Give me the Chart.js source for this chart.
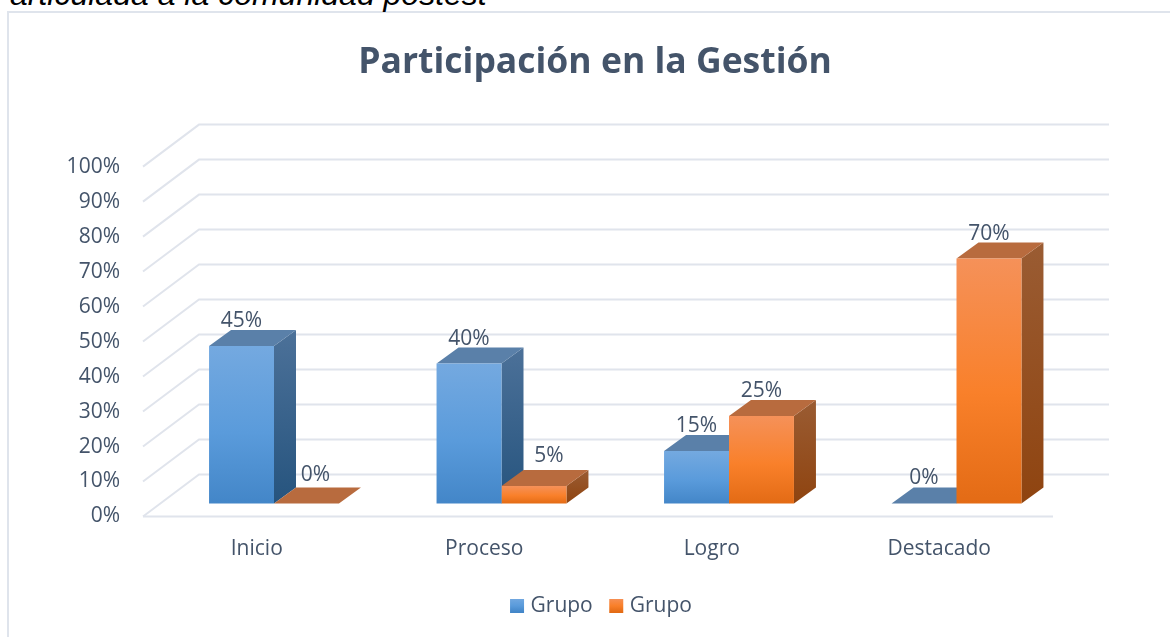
<!DOCTYPE html>
<html lang="es">
<head>
<meta charset="utf-8">
<title>Participación en la Gestión</title>
<script src="https://cdn.jsdelivr.net/npm/chart.js@4"></script>
<style>
html,body{margin:0;padding:0;background:#fff;overflow:hidden;width:1170px;height:637px}
#frame{position:absolute;left:7px;top:11px;width:1300px;height:800px;border:2px solid #DFE4EC;box-sizing:border-box}
#caption{position:absolute;left:10px;top:-24px;font:italic 32px "Liberation Sans",Arial,sans-serif;color:#000;white-space:nowrap}
#wrap{position:absolute;left:0;top:0;width:1170px;height:637px}
</style>
</head>
<body>
<div id="frame"></div>
<div id="caption">articulada a la comunidad postest</div>
<div id="wrap"><canvas id="c" width="1170" height="637"></canvas></div>
<script>
const chartTitle = 'Participación en la Gestión';
const categories = ['Inicio', 'Proceso', 'Logro', 'Destacado'];
const seriesNames = ['Grupo', 'Grupo'];
const seriesA = [45, 40, 15, 0];
const seriesB = [0, 5, 25, 70];

const textColor = '#44546A';
const gridColor = '#E0E4EC';
const font = '"Open Sans","Noto Sans",sans-serif';
const wallDX = 56, wallDY = 42;      // wall depth of the 3D box
const barShiftX = 17.25, barShiftY = 13; // bars stand inside the box
const barDX = 22, barDY = 16;        // depth of each bar
const legendShift = 8;

const palette = [
  {front:['#74A9E0','#5A9BDB','#4386C8'], side:['#4C7199','#26547E'], top:'#5A80A9'},
  {front:['#F59159','#F9802A','#E36B15'], side:['#9A5C33','#8F4410'], top:'#B86B3E'}
];
function frontGradient(ctx, y0, y1, p){
  const g = ctx.createLinearGradient(0, y0, 0, y1);
  g.addColorStop(0, p.front[0]); g.addColorStop(.55, p.front[1]); g.addColorStop(1, p.front[2]);
  return g;
}
function barFill(p){
  return c => {
    const el = c.element;
    if(!c.chart.chartArea || c.parsed === undefined || !el) return p.front[1];
    const y = c.chart.scales.y;
    const top = y.getPixelForValue(c.parsed.y), base = y.getPixelForValue(0);
    return frontGradient(c.chart.ctx, top, base === top ? top+1 : base, p);
  };
}
const box3d = {
  id:'box3d',
  afterLayout(chart){
    chart.legend.left += legendShift;
    chart.legend.right += legendShift;
  },
  beforeDatasetsDraw(chart){
    const {ctx, scales:{y}, chartArea:a} = chart;
    ctx.save();
    ctx.strokeStyle = gridColor; ctx.lineWidth = 2;
    y.ticks.forEach(t => {
      const py = y.getPixelForValue(t.value);
      ctx.beginPath();
      ctx.moveTo(a.left, py);
      ctx.lineTo(a.left + wallDX, py - wallDY);
      ctx.lineTo(a.right + wallDX, py - wallDY);
      ctx.stroke();
      if(t.value === 0){
        ctx.beginPath(); ctx.moveTo(a.left, py); ctx.lineTo(a.right, py); ctx.stroke();
      }
    });
    chart.data.datasets.forEach((ds, i) => {
      const p = palette[i];
      chart.getDatasetMeta(i).data.forEach(el => {
        const l = el.x - el.width/2 + barShiftX, r = el.x + el.width/2 + barShiftX;
        const t = el.y - barShiftY, b = el.base - barShiftY;
        if(b - t > 0.5){
          const g = ctx.createLinearGradient(0, t - barDY, 0, b);
          g.addColorStop(0, p.side[0]); g.addColorStop(1, p.side[1]);
          ctx.fillStyle = g;
          ctx.beginPath();
          ctx.moveTo(r, t); ctx.lineTo(r + barDX, t - barDY);
          ctx.lineTo(r + barDX, b - barDY); ctx.lineTo(r, b);
          ctx.closePath(); ctx.fill();
        }
        ctx.fillStyle = p.top;
        ctx.beginPath();
        ctx.moveTo(l, t); ctx.lineTo(r, t);
        ctx.lineTo(r + barDX, t - barDY); ctx.lineTo(l + barDX, t - barDY);
        ctx.closePath(); ctx.fill();
      });
    });
    ctx.restore();
    ctx.save();
    ctx.translate(barShiftX, -barShiftY);
  },
  afterDatasetsDraw(chart){
    const {ctx} = chart;
    ctx.restore();
    ctx.save();
    ctx.fillStyle = textColor;
    ctx.font = '21px ' + font;
    ctx.textAlign = 'center';
    ctx.textBaseline = 'middle';
    chart.data.datasets.forEach((ds, i) => {
      chart.getDatasetMeta(i).data.forEach((el, j) => {
        const v = ds.data[j];
        // short second-series bars keep their label clear of the first bar's side
        const small = i === 1 && v < 10;
        const nudgeX = small ? (v === 0 ? 9 : 15) : 0;
        const nudgeY = small ? (v === 0 ? 3 : 5) : 0;
        ctx.fillText(v + '%', el.x + barShiftX + nudgeX, el.y - barShiftY - 25 - nudgeY);
      });
    });
    ctx.restore();
  }
};

new Chart(document.getElementById('c'), {
  type:'bar',
  data:{
    labels:categories,
    datasets:[
      {label:seriesNames[0], data:seriesA, backgroundColor:barFill(palette[0]), borderWidth:0, clip:false},
      {label:seriesNames[1], data:seriesB, backgroundColor:barFill(palette[1]), borderWidth:0, clip:false}
    ]
  },
  options:{
    responsive:false,
    animation:false,
    events:[],
    categoryPercentage:0.571,
    barPercentage:1,
    layout:{padding:{left:20, right:0, top:0, bottom:10.5}},
    plugins:{
      tooltip:{enabled:false},
      title:{
        display:true, text:chartTitle, color:textColor,
        font:{family:font, size:35.5, weight:'bold', lineHeight:1.2},
        padding:{top:42, bottom:82}
      },
      legend:{
        position:'bottom',
        labels:{
          color:textColor, font:{family:font, size:21},
          boxWidth:6, boxHeight:6, padding:20.5,
          generateLabels(chart){
            return chart.data.datasets.map((ds, i) => {
              const g = frontGradient(chart.ctx, 598, 612, palette[i]);
              return {text:ds.label, datasetIndex:i, lineWidth:8, strokeStyle:g, fillStyle:g, fontColor:textColor};
            });
          }
        }
      }
    },
    scales:{
      x:{
        grid:{display:false}, border:{display:false},
        ticks:{color:textColor, font:{family:font, size:21}, padding:12, maxRotation:0},
        afterFit(s){ s.height = 58.5; }
      },
      y:{
        min:0, max:100,
        grid:{display:false}, border:{display:false},
        ticks:{color:textColor, font:{family:font, size:21}, stepSize:10, padding:15, callback:v => v + '%'},
        afterFit(s){ s.width = 123; }
      },
      yDepth:{
        position:'right', min:0, max:100, display:true,
        grid:{display:false}, border:{display:false},
        ticks:{display:false},
        afterFit(s){ s.width = 117; }
      }
    }
  },
  plugins:[box3d]
});
</script>
</body>
</html>
